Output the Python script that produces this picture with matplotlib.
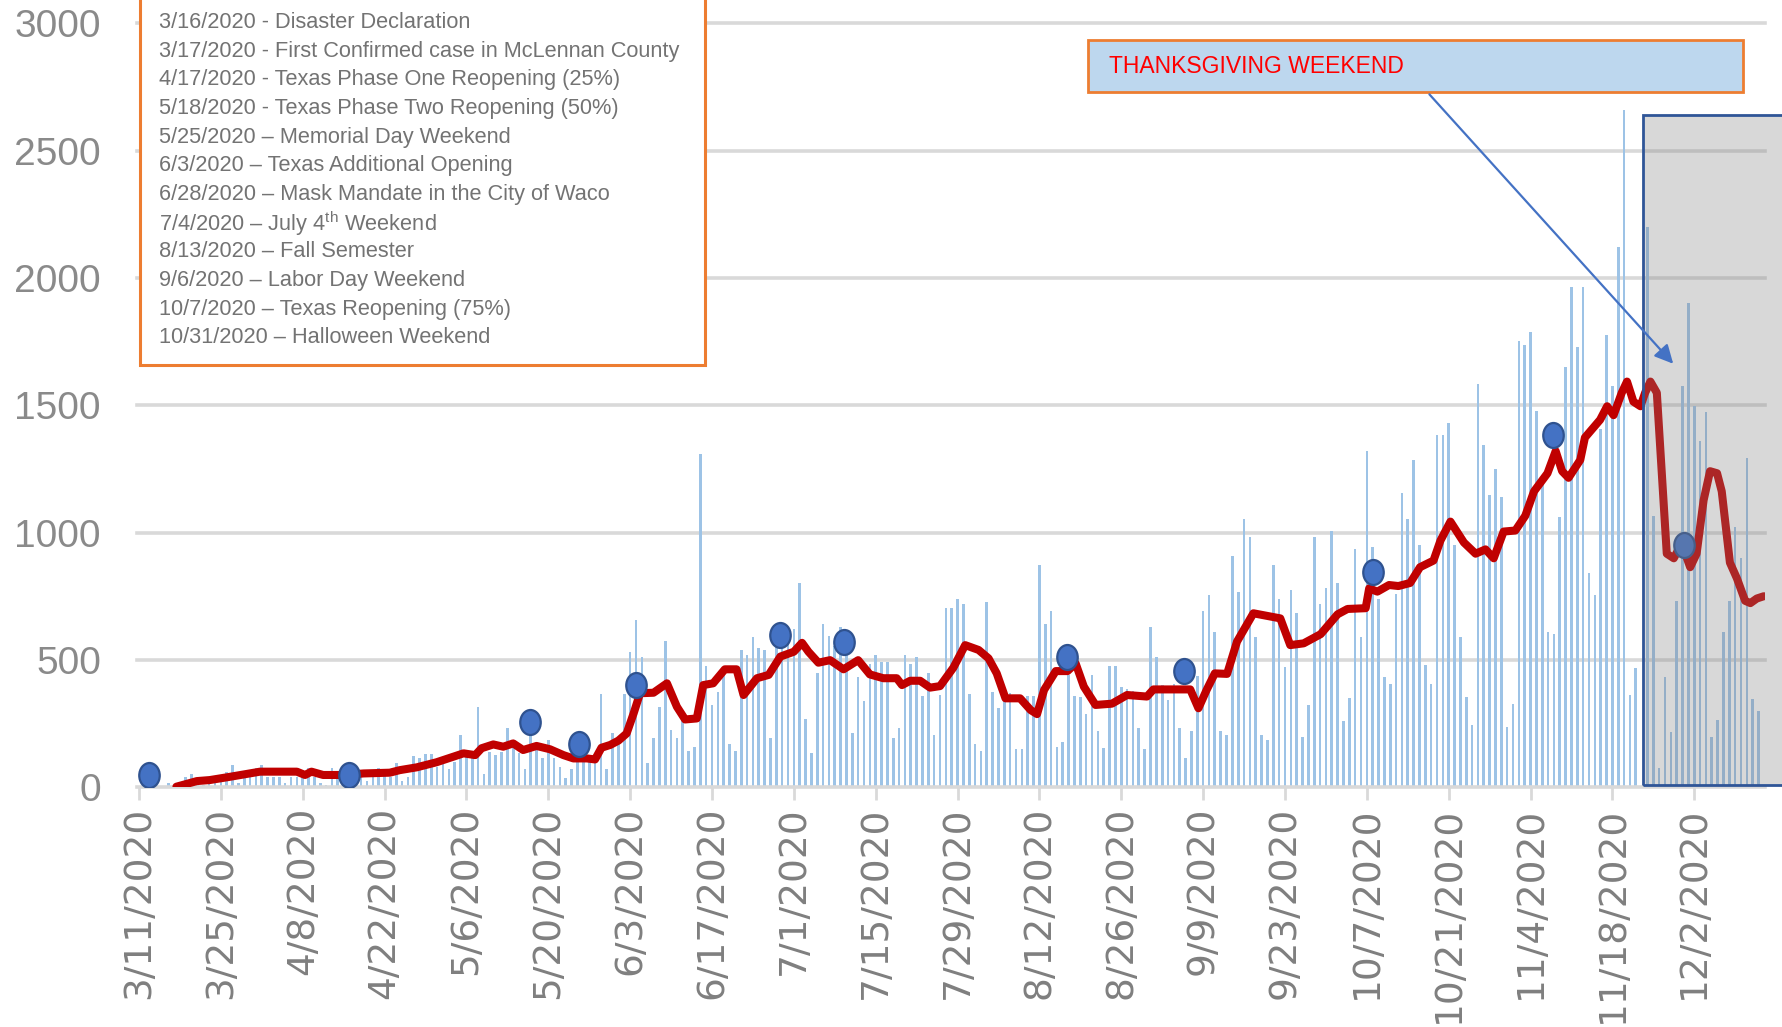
import matplotlib
matplotlib.use("Agg")
import matplotlib.pyplot as plt
import numpy as np
from matplotlib import font_manager
from matplotlib.patches import Rectangle
from matplotlib.markers import MarkerStyle
from matplotlib.transforms import Affine2D


def pick_font(names):
    for name in names:
        try:
            font_manager.findfont(name, fallback_to_default=False)
            return name
        except ValueError:
            pass
    return "DejaVu Sans"


# daily new cases, one value per day starting 3/11/2020
cases = [
    0, 0, 0, 0, 0, 15, 5, 10, 40, 52,
    20, 10, 20, 30, 20, 58, 87, 18, 35, 40,
    74, 87, 41, 41, 41, 18, 41, 41, 41, 77,
    41, 18, 9, 77, 45, 40, 41, 40, 40, 24,
    41, 77, 50, 41, 94, 24, 41, 124, 113, 130,
    130, 80, 100, 70, 98, 205, 120, 113, 313, 52,
    140, 126, 140, 231, 153, 133, 70, 205, 153, 113,
    185, 113, 78, 35, 70, 120, 133, 120, 133, 366,
    70, 211, 198, 366, 530, 656, 510, 96, 194, 313,
    575, 224, 194, 287, 142, 159, 1307, 476, 322, 375,
    441, 169, 142, 539, 519, 591, 548, 539, 194, 572,
    572, 620, 620, 800, 268, 133, 447, 639, 593, 554,
    630, 539, 214, 431, 340, 484, 519, 493, 493, 195,
    231, 519, 484, 510, 358, 447, 205, 362, 702, 702,
    738, 718, 366, 168, 142, 728, 375, 312, 371, 368,
    150, 150, 358, 358, 873, 639, 693, 159, 178, 440,
    358, 355, 287, 440, 222, 152, 476, 476, 395, 384,
    378, 231, 150, 630, 510, 401, 342, 405, 231, 116,
    222, 438, 692, 755, 611, 222, 205, 909, 765, 1053,
    981, 591, 205, 185, 873, 738, 473, 774, 685, 196,
    323, 981, 719, 783, 1007, 800, 260, 349, 935, 591,
    1320, 945, 741, 434, 407, 759, 1157, 1052, 1285, 952,
    478, 407, 1385, 1385, 1429, 952, 588, 355, 246, 1584,
    1342, 1148, 1250, 1140, 235, 328, 1754, 1737, 1786, 1479,
    1206, 609, 601, 1061, 1649, 1965, 1728, 1965, 843, 753,
    1408, 1774, 1575, 2120, 2659, 364, 469, 0, 2199, 1066,
    74, 434, 218, 732, 1575, 1900, 1496, 1359, 1473, 197,
    263, 609, 732, 1022, 899, 1294, 346, 299,
]

# red trend line (day offset, value)
line_days = [6.4, 9.9, 12.1, 15.6, 18.4, 20.7, 27.0, 28.4, 29.5, 31.5, 35.0, 38.4,
             42.9, 44.6, 47.5, 50.9, 53.8, 55.5, 57.5, 58.6, 60.6, 62.3, 64.0, 65.7,
             68.0, 70.3, 72.6, 74.3, 76.6, 78.0, 79.1, 80.6, 82.0, 83.4, 84.6, 85.7,
             88.0, 90.3, 92.0, 93.4, 95.4, 96.5, 98.2, 100.2, 102.2, 103.4, 105.7, 107.7,
             109.7, 112.0, 113.4, 114.5, 116.2, 118.2, 120.5, 123.0, 125.0, 127.3, 129.6, 130.5,
             131.9, 133.6, 135.3, 137.0, 139.3, 141.3, 143.6, 145.3, 146.7, 148.2, 150.7, 152.5,
             153.6, 154.8, 156.8, 158.8, 160.2, 161.6, 163.6, 166.4, 169.0, 172.4, 173.5, 179.8,
             181.2, 182.6, 184.0, 186.1, 187.8, 190.6, 195.2, 196.9, 199.2, 202.1, 205.0, 206.7,
             209.8, 210.4, 211.8, 213.8, 215.4, 217.4, 219.1, 221.4, 222.6, 224.3, 226.6, 228.6,
             230.3, 231.7, 233.4, 235.4, 237.1, 238.6, 240.9, 242.3, 243.4, 244.5, 246.5, 247.3,
             249.9, 251.1, 252.2, 253.6, 254.5, 255.6, 256.8, 257.6, 258.5, 259.6, 260.5, 261.3,
             262.5, 263.3, 264.2, 265.3, 266.4, 267.6, 268.7, 269.9, 270.7, 272.1, 273.3, 274.7,
             275.6, 276.7, 277.9]
line_vals = [2, 24, 28, 41, 52, 61, 61, 48, 61, 48, 48, 54,
             57, 67, 78, 98, 120, 133, 126, 153, 168, 159, 172, 146,
             162, 149, 126, 113, 113, 109, 155, 166, 183, 211, 290, 369,
             371, 408, 316, 266, 270, 401, 408, 463, 463, 362, 428, 441,
             513, 532, 567, 532, 489, 499, 463, 499, 443, 428, 428, 401,
             418, 418, 391, 397, 470, 558, 539, 506, 447, 349, 349, 303,
             287, 382, 456, 456, 486, 395, 323, 328, 362, 356, 384, 384,
             310, 382, 447, 445, 572, 683, 663, 558, 565, 601, 679, 700,
             703, 781, 768, 794, 790, 802, 864, 890, 969, 1043, 961, 917,
             934, 899, 1004, 1008, 1066, 1162, 1233, 1320, 1241, 1215, 1285, 1373,
             1443, 1496, 1461, 1549, 1593, 1514, 1496, 1549, 1593, 1549, 1215, 917,
             899, 934, 934, 864, 917, 1127, 1241, 1233, 1162, 882, 820, 732,
             723, 741, 750]

# event markers (day offset, value)
event_days = [1.7, 35.9, 66.9, 75.3, 85.0, 109.6, 120.5, 158.7, 178.8, 211.0, 241.9, 264.3]
event_vals = [48, 48, 255, 170, 401, 598, 571, 513, 456, 846, 1382, 952]

tick_labels = ["3/11/2020", "3/25/2020", "4/8/2020", "4/22/2020", "5/6/2020",
               "5/20/2020", "6/3/2020", "6/17/2020", "7/1/2020", "7/15/2020",
               "7/29/2020", "8/12/2020", "8/26/2020", "9/9/2020", "9/23/2020",
               "10/7/2020", "10/21/2020", "11/4/2020", "11/18/2020", "12/2/2020"]

events_text = [
    "3/16/2020 - Disaster Declaration",
    "3/17/2020 - First Confirmed case in McLennan County",
    "4/17/2020 - Texas Phase One Reopening (25%)",
    "5/18/2020 - Texas Phase Two Reopening (50%)",
    "5/25/2020 \u2013 Memorial Day Weekend",
    "6/3/2020 \u2013 Texas Additional Opening",
    "6/28/2020 \u2013 Mask Mandate in the City of Waco",
    "7/4/2020 \u2013 July 4$^{\\mathregular{th}}$ Weekend",
    "8/13/2020 \u2013 Fall Semester",
    "9/6/2020 \u2013 Labor Day Weekend",
    "10/7/2020 \u2013 Texas Reopening (75%)",
    "10/31/2020 \u2013 Halloween Weekend",
]

narrow = pick_font(["Liberation Sans Narrow", "Liberation Sans"])
regular = pick_font(["Liberation Sans", "DejaVu Sans"])
note_size = 17 if narrow == "Liberation Sans Narrow" else 15.7

fig = plt.figure(figsize=(17.83, 10.27), dpi=100)
ax = fig.add_axes([137 / 1783, 239.8 / 1027, 1628 / 1783, 763.9 / 1027])

days = np.arange(len(cases))

for v in range(500, 3001, 500):
    ax.axhline(v, color="#d9d9d9", lw=2.6, zorder=0, clip_on=False)

ax.bar(days, cases, width=0.45, color="#9dc3e6", zorder=1)
ax.plot(line_days, line_vals, color="#c00000", lw=5.8, zorder=3,
        solid_joinstyle="round", solid_capstyle="round")

dot = MarkerStyle("o", transform=Affine2D().scale(0.82, 1.0))
ax.plot(event_days, event_vals, ls="none", marker=dot, markersize=18,
        markerfacecolor="#4472c4", markeredgecolor="#2f528f", markeredgewidth=1.6,
        zorder=4)

ax.set_xlim(-0.34, 278.1)
ax.set_ylim(0, 3000)

ax.set_xticks(np.arange(0, 267, 14))
ax.set_xticklabels(tick_labels, rotation=90, fontsize=27, color="#7f7f7f",
                   family="DejaVu Sans")
ax.set_yticks(range(0, 3001, 500))
ax.set_yticklabels([str(v) for v in range(0, 3001, 500)], fontsize=28,
                   color="#8a8a8a", family=regular)
ax.tick_params(axis="x", length=9, width=2, color="#d9d9d9", pad=5)
ax.tick_params(axis="y", length=0, pad=26)

for s in ["top", "right", "left"]:
    ax.spines[s].set_visible(False)
ax.spines["bottom"].set_color("#d9d9d9")
ax.spines["bottom"].set_linewidth(2.6)

# shaded thanksgiving period
ax.add_patch(Rectangle((257.3, 9), 30, 2632, facecolor="#808080", alpha=0.3,
                       edgecolor="none", zorder=6, clip_on=False))
ax.add_patch(Rectangle((257.3, 9), 30, 2632, facecolor="none",
                       edgecolor="#2f5597", lw=2, zorder=6, clip_on=False))

# thanksgiving label box and arrow
ax.add_patch(Rectangle((162.3, 2730), 112.1, 204, facecolor="#bdd7ee",
                       edgecolor="#ed7d31", lw=2, zorder=7, clip_on=False))
ax.text(165.9, 2830, "THANKSGIVING WEEKEND", color="#ff0000", fontsize=16.5,
        family=regular, va="center", ha="left", zorder=8)
ax.annotate("", xy=(262.4, 1663), xytext=(220.7, 2721),
            arrowprops=dict(arrowstyle="-|>", color="#4472c4", lw=1.6,
                            mutation_scale=28, shrinkA=0, shrinkB=0),
            zorder=8)

# event list box
ax.add_patch(Rectangle((0.17, 1658), 96.6, 1700, facecolor="white",
                       edgecolor="#ed7d31", lw=2.2, zorder=7, clip_on=False))
plt.rcParams["mathtext.fontset"] = "custom"
plt.rcParams["mathtext.rm"] = narrow
for i, t in enumerate(events_text):
    fig.text(159 / 1783, 1 - (22.7 + i * 28.65) / 1027, t, fontsize=note_size,
             family=narrow, color="#737373", va="center", ha="left", zorder=9)

fig.savefig("out.png", dpi=100)
